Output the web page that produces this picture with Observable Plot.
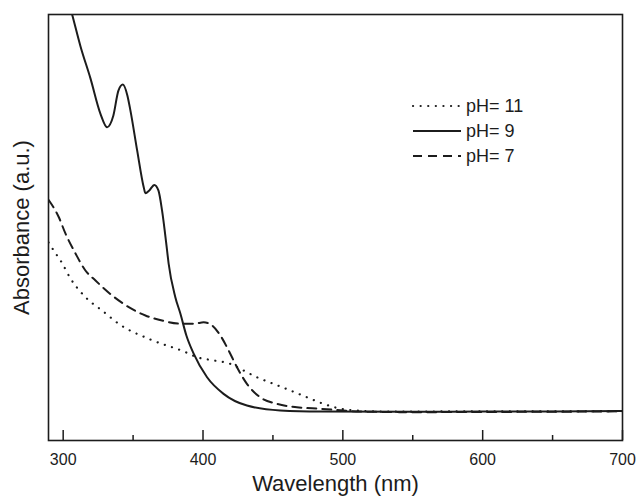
<!DOCTYPE html>
<html>
<head>
<meta charset="utf-8">
<script src="https://cdn.jsdelivr.net/npm/d3@7"></script>
<script src="https://cdn.jsdelivr.net/npm/@observablehq/plot@0.6"></script>
<style>
  html, body { margin: 0; padding: 0; background: #fff; }
  #wrap { position: relative; width: 636px; height: 497px; font-family: "Liberation Sans", Arial, sans-serif; }
  #legend { position: absolute; left: 0; top: 0; pointer-events: none; }
</style>
</head>
<body>
<div id="wrap"></div>
<script>
// ---- data (wavelength in nm, absorbance in a.u.) ----
const majorTicks = [300, 400, 500, 600, 700];
const minorTicks = [350, 450, 550, 650];

const seriesNames = ["pH= 11", "pH= 9", "pH= 7"];

const pH11X = [289.5, 294.0, 298.1, 305.2, 315.9, 327.9, 339.7, 362.4, 387.4, 395.7, 407.6, 419.5, 426.6, 438.6, 450.4, 462.4, 474.3, 486.1, 501.6, 526.6, 550, 600, 650, 700];
const pH11Y = [0.93, 0.884, 0.845, 0.761, 0.673, 0.610, 0.548, 0.474, 0.415, 0.391, 0.376, 0.360, 0.337, 0.297, 0.266, 0.235, 0.203, 0.172, 0.146, 0.136, 0.136, 0.137, 0.137, 0.138];

const pH9X = [289.5, 306.4, 312.4, 319.5, 326.6, 331.4, 335.9, 339.5, 342.7, 345.9, 348.1, 352.9, 357.6, 358.8, 361.6, 365.2, 368.1, 370.7, 374.3, 375.4, 380.2, 383.8, 388.1, 393.3, 402.9, 414.7, 431.4, 455.2, 483.8, 550, 600, 650, 700];
const pH9Y = [2.371, 2.000, 1.850, 1.700, 1.535, 1.471, 1.526, 1.643, 1.671, 1.620, 1.549, 1.362, 1.189, 1.161, 1.174, 1.200, 1.174, 1.080, 0.892, 0.831, 0.673, 0.596, 0.493, 0.408, 0.297, 0.219, 0.164, 0.141, 0.136, 0.135, 0.136, 0.136, 0.138];

const pH7X = [289.5, 296.9, 301.6, 308.8, 315.9, 323.1, 335.0, 346.9, 358.8, 370.7, 385.0, 394.5, 400.4, 406.4, 412.4, 418.3, 424.3, 431.4, 440.9, 452.9, 467.1, 483.8, 512.4, 550, 600, 650, 700];
const pH7Y = [1.13, 1.048, 0.972, 0.878, 0.798, 0.751, 0.681, 0.626, 0.587, 0.563, 0.548, 0.549, 0.555, 0.540, 0.493, 0.423, 0.344, 0.266, 0.203, 0.172, 0.156, 0.149, 0.136, 0.133, 0.134, 0.135, 0.137];

const toRows = (xs, ys) => xs.map((x, i) => ({x, y: ys[i]}));
const pH11 = toRows(pH11X, pH11Y);
const pH9 = toRows(pH9X, pH9Y);
const pH7 = toRows(pH7X, pH7Y);

const ink = "#1c1c1c";
const styles = [
  {dash: "0.1,7.5", width: 2.2, cap: "round"},
  {dash: null, width: 2, cap: "butt"},
  {dash: "9,6", width: 2, cap: "butt"}
];

const plotH = 497 - 14 - 57;

const chart = Plot.plot({
  width: 636,
  height: 497,
  marginLeft: 48,
  marginRight: 14,
  marginTop: 14,
  marginBottom: 57,
  style: {fontFamily: "'Liberation Sans', Arial, sans-serif", color: ink, background: "#fff"},
  x: {domain: [289.5, 700]},
  y: {domain: [0, 2]},
  marks: [
    Plot.line(pH11, {x: "x", y: "y", curve: "monotone-x", stroke: ink, strokeWidth: styles[0].width, strokeDasharray: styles[0].dash, strokeLinecap: "round", clip: true}),
    Plot.line(pH9, {x: "x", y: "y", curve: "monotone-x", stroke: ink, strokeWidth: styles[1].width, clip: true}),
    Plot.line(pH7, {x: "x", y: "y", curve: "monotone-x", stroke: ink, strokeWidth: styles[2].width, strokeDasharray: styles[2].dash, clip: true}),
    Plot.tickX(majorTicks, {x: d => d, stroke: ink, strokeWidth: 1.5, insetTop: plotH - 10}),
    Plot.tickX(minorTicks, {x: d => d, stroke: ink, strokeWidth: 1.5, insetTop: plotH - 5}),
    Plot.axisX({ticks: majorTicks, tickSize: 0, tickPadding: 13, fontSize: 16, label: "Wavelength (nm)", labelAnchor: "center", labelArrow: "none", labelOffset: 50}),
    Plot.axisY({ticks: [], tickSize: 0, label: "Absorbance (a.u.)", labelAnchor: "center", labelArrow: "none", labelOffset: 35}),
    Plot.frame({stroke: ink, strokeWidth: 1.6})
  ]
});

const wrap = document.getElementById("wrap");
wrap.appendChild(chart);

// enlarge axis titles
chart.querySelectorAll('[aria-label="x-axis label"] text, [aria-label="y-axis label"] text').forEach(t => {
  t.style.fontSize = "22px";
});
chart.querySelectorAll('[aria-label="x-axis label"], [aria-label="y-axis label"]').forEach(g => {
  g.setAttribute("font-size", "22");
});

// legend overlay
const ns = "http://www.w3.org/2000/svg";
const leg = document.createElementNS(ns, "svg");
leg.setAttribute("id", "legend");
leg.setAttribute("width", 636);
leg.setAttribute("height", 497);
const legX0 = 413, legX1 = 461, legY0 = 106, legStep = 25;
seriesNames.forEach((name, i) => {
  const y = legY0 + i * legStep;
  const ln = document.createElementNS(ns, "line");
  ln.setAttribute("x1", legX0); ln.setAttribute("x2", legX1);
  ln.setAttribute("y1", y); ln.setAttribute("y2", y);
  ln.setAttribute("stroke", ink);
  ln.setAttribute("stroke-width", styles[i].width);
  ln.setAttribute("stroke-linecap", styles[i].cap);
  if (styles[i].dash) ln.setAttribute("stroke-dasharray", styles[i].dash);
  leg.appendChild(ln);
  const tx = document.createElementNS(ns, "text");
  tx.setAttribute("x", legX1 + 5);
  tx.setAttribute("y", y);
  tx.setAttribute("dy", "0.35em");
  tx.setAttribute("font-size", 18);
  tx.setAttribute("fill", ink);
  tx.setAttribute("font-family", "'Liberation Sans', Arial, sans-serif");
  tx.textContent = name;
  leg.appendChild(tx);
});
wrap.appendChild(leg);
</script>
</body>
</html>
